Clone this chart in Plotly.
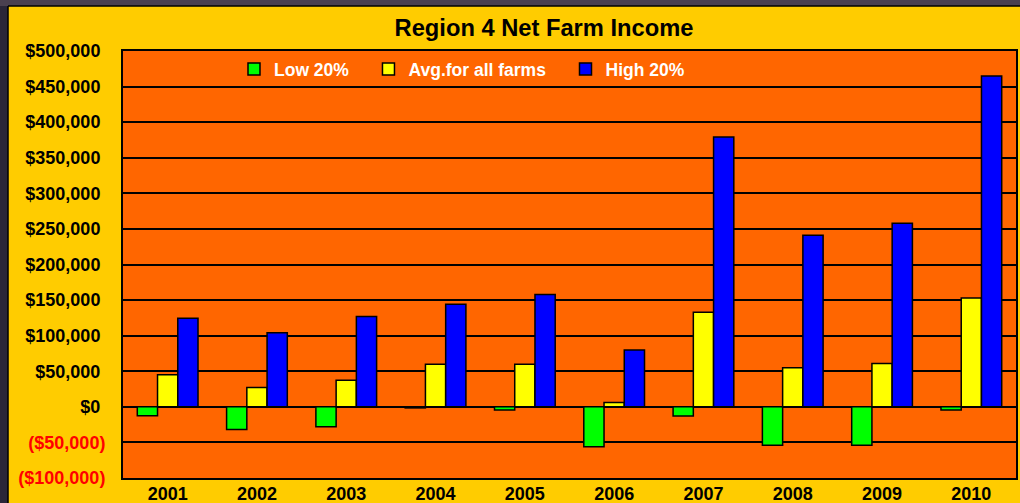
import plotly.graph_objects as go

years = ["2001", "2002", "2003", "2004", "2005", "2006", "2007", "2008", "2009", "2010"]
low_20 = [-12500, -32000, -28000, -1500, -4500, -56000, -13000, -54000, -54000, -4500]
avg_all = [45000, 27000, 37500, 60000, 60000, 6000, 133000, 55000, 61000, 153000]
high_20 = [124500, 104000, 127000, 144000, 158000, 80000, 379000, 241000, 258000, 465000]

series_names = ["Low 20%", "Avg.for all farms", "High 20%"]
series_colors = ["#00FF00", "#FFFF00", "#0000FF"]

tick_vals = [-100000, -50000, 0, 50000, 100000, 150000, 200000, 250000, 300000, 350000, 400000, 450000, 500000]


def fmt(v):
    if v < 0:
        return '<span style="color:#FF0000">($' + f"{-v:,}" + ')</span>'
    return "$" + f"{v:,}" + "&nbsp;"


tick_text = [fmt(v) for v in tick_vals]

FONT = "Liberation Sans, Arial, sans-serif"

fig = go.Figure()
for name, vals, col in zip(series_names, [low_20, avg_all, high_20], series_colors):
    fig.add_trace(go.Bar(
        x=years, y=vals, name=name + "&nbsp;&nbsp;&nbsp;",
        marker=dict(color=col, line=dict(color="#000000", width=1.5)),
    ))

W, H = 1020, 503
L, R, T, B = 123, 4, 51, 25
pw, ph = W - L - R, H - T - B


def px2x(px):
    return (px - L) / pw


def py2y(py):
    return (H - B - py) / ph


shapes = [
    # dark surround (left + top)
    dict(type="rect", xref="paper", yref="paper", x0=px2x(-5), x1=px2x(8), y0=py2y(H + 5), y1=py2y(-5),
         fillcolor="#2a2638", line=dict(width=0), layer="below"),
    dict(type="rect", xref="paper", yref="paper", x0=px2x(-5), x1=px2x(W + 5), y0=py2y(6), y1=py2y(-5),
         fillcolor="#4a4050", line=dict(width=0), layer="below"),
    # black edge of yellow panel
    dict(type="line", xref="paper", yref="paper", x0=px2x(8), x1=px2x(8), y0=py2y(6), y1=py2y(H + 5),
         line=dict(color="#000000", width=1.5)),
    dict(type="line", xref="paper", yref="paper", x0=px2x(8), x1=px2x(W + 5), y0=py2y(6), y1=py2y(6),
         line=dict(color="#000000", width=1.5)),
]

fig.update_layout(
    width=W, height=H,
    margin=dict(l=L, r=R, t=T, b=B, autoexpand=False),
    paper_bgcolor="#FFCC00",
    plot_bgcolor="#FF6600",
    barmode="group",
    bargap=0.32,
    bargroupgap=0,
    title=dict(text="Region 4 Net Farm Income", x=544 / W, xanchor="center", y=1 - 28 / H, yanchor="middle",
               xref="container", yref="container",
               font=dict(family=FONT, size=23.7, color="#000000", weight="bold")),
    font=dict(family=FONT, color="#000000"),
    legend=dict(orientation="h", x=px2x(234), xanchor="left", y=py2y(69), yanchor="middle",
                bgcolor="rgba(0,0,0,0)", font=dict(family=FONT, size=17.5, color="#FFFFFF", weight="bold"),
                itemwidth=30, traceorder="normal"),
    shapes=shapes,
    xaxis=dict(type="category", showgrid=False, showline=True, mirror=True, linecolor="#000000", linewidth=2,
               ticks="", tickfont=dict(family=FONT, size=18, color="#000000", weight="bold"),
               ticklabelstandoff=-2, automargin=False),
    yaxis=dict(range=[-100000, 500000], tickvals=tick_vals, ticktext=tick_text,
               showgrid=True, gridcolor="#000000", gridwidth=1.5,
               zeroline=True, zerolinecolor="#000000", zerolinewidth=2,
               showline=True, mirror=True, linecolor="#000000", linewidth=2,
               ticks="", tickfont=dict(family=FONT, size=18, color="#000000", weight="bold"),
               ticklabelstandoff=12, automargin=False),
)

fig.write_html("out.html", config={"displayModeBar": False},
               post_script="document.body.style.margin='0';document.body.style.overflow='hidden';")
